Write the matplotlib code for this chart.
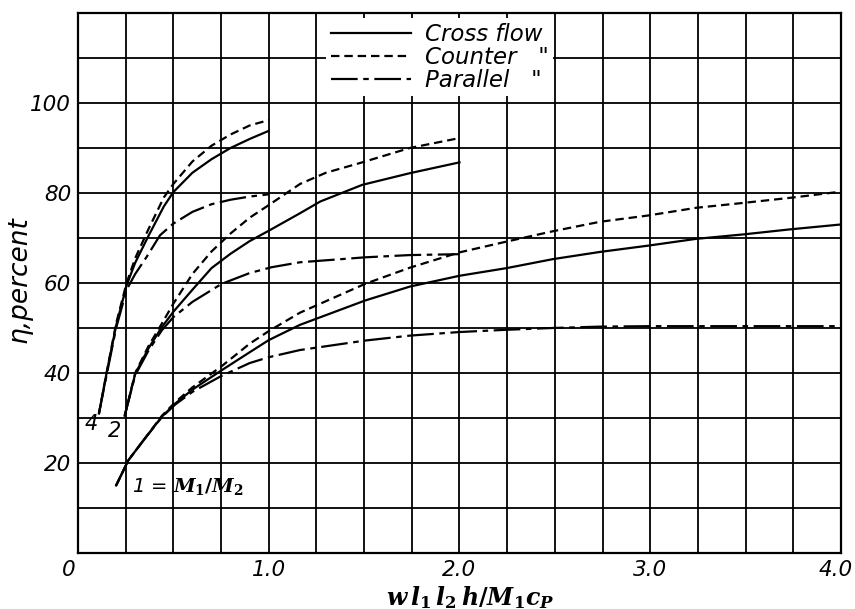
import matplotlib.pyplot as plt
from matplotlib.ticker import MultipleLocator, FixedLocator
from matplotlib.transforms import ScaledTranslation

# Heat-exchanger effectiveness vs. w*l1*l2*h/(M1*cp) for M1/M2 = 4, 2, 1

# M1/M2 = 4
r4_counter_x = [0.11, 0.15, 0.2, 0.255, 0.3, 0.37, 0.45, 0.5, 0.6, 0.7, 0.8, 0.9, 1.0]
r4_counter_y = [31, 40, 51, 60, 65.5, 72, 79, 82, 87, 90.5, 93, 95, 96.2]
r4_cross_x = [0.11, 0.15, 0.2, 0.255, 0.3, 0.37, 0.45, 0.5, 0.6, 0.7, 0.8, 0.9, 1.0]
r4_cross_y = [31, 40, 50.5, 59.5, 64.5, 70.5, 77, 80.2, 84.5, 87.5, 90, 92, 93.8]
r4_parallel_x = [0.11, 0.15, 0.2, 0.255, 0.3, 0.36, 0.43, 0.5, 0.6, 0.7, 0.8, 0.9, 1.0]
r4_parallel_y = [31, 39.5, 50, 58.5, 62, 65.8, 70.6, 73.2, 75.8, 77.5, 78.5, 79.2, 79.7]

# M1/M2 = 2
r2_counter_x = [0.245, 0.3, 0.37, 0.44, 0.5, 0.6, 0.7, 0.8, 0.9, 1.0, 1.164, 1.3, 1.49, 1.74, 2.0]
r2_counter_y = [30.5, 40, 46, 51, 55.4, 62, 67, 71, 74.5, 77.3, 82, 84.5, 86.8, 90, 92.2]
r2_cross_x = [0.245, 0.3, 0.37, 0.44, 0.5, 0.6, 0.7, 0.8, 0.9, 1.0, 1.164, 1.27, 1.49, 1.74, 2.0]
r2_cross_y = [30.5, 39.8, 45.5, 50.2, 53.6, 58.5, 63.3, 66.5, 69.3, 71.6, 75.5, 78.1, 81.8, 84.4, 86.8]
r2_parallel_x = [0.245, 0.3, 0.37, 0.44, 0.5, 0.6, 0.753, 0.9, 1.015, 1.164, 1.505, 1.74, 2.0]
r2_parallel_y = [30.5, 39.5, 45, 49.5, 52.4, 55.8, 59.8, 62.2, 63.5, 64.6, 65.7, 66.2, 66.4]

# M1/M2 = 1
r1_counter_x = [0.2, 0.264, 0.35, 0.44, 0.51, 0.6, 0.753, 0.9, 1.0, 1.164, 1.505, 1.74,
                2.0, 2.247, 2.49, 2.737, 2.99, 3.24, 3.49, 3.75, 4.0]
r1_counter_y = [15, 20.6, 25.4, 30.5, 33.5, 36.8, 41.5, 46.5, 49.3, 53.4, 59.8, 63.4,
                66.8, 69.2, 71.5, 73.6, 75.0, 76.7, 77.8, 79.0, 80.3]
r1_cross_x = [0.2, 0.264, 0.35, 0.44, 0.51, 0.6, 0.753, 0.9, 1.0, 1.164, 1.505, 1.74,
              2.0, 2.247, 2.49, 2.737, 2.99, 3.24, 3.49, 3.73, 4.0]
r1_cross_y = [15, 20.6, 25.4, 30.3, 33.2, 36.3, 40.6, 44.6, 47.3, 50.7, 56.1, 59.2,
              61.6, 63.3, 65.3, 66.9, 68.3, 69.8, 70.8, 71.9, 73.0]
r1_parallel_x = [0.2, 0.264, 0.35, 0.44, 0.51, 0.6, 0.75, 0.9, 1.0, 1.164, 1.505, 1.74,
                 2.0, 2.247, 2.49, 2.737, 3.0, 3.5, 4.0]
r1_parallel_y = [15, 20.6, 25.4, 30.2, 33, 35.8, 39.3, 42.2, 43.5, 45.1, 47.2, 48.3,
                 49.1, 49.6, 50.0, 50.3, 50.4, 50.4, 50.4]

x_tick_pos = [0, 1, 2, 3, 4]
x_tick_labels = ['0', '1.0', '2.0', '3.0', '4.0']
y_tick_pos = [20, 40, 60, 80, 100]
y_tick_labels = ['20', '40', '60', '80', '100']
legend_labels = ['Cross flow', 'Counter   "', 'Parallel   "']

plt.rcParams['font.family'] = ['DejaVu Sans']
plt.rcParams['mathtext.fontset'] = 'custom'
plt.rcParams['mathtext.it'] = 'DejaVu Serif:italic:bold'
plt.rcParams['mathtext.rm'] = 'DejaVu Serif:bold'
plt.rcParams['mathtext.bf'] = 'DejaVu Serif:bold'

cross_style = dict(color='black', lw=1.6, ls='-')
counter_style = dict(color='black', lw=1.6, ls=(0, (3.8, 2.2)))
parallel_style = dict(color='black', lw=1.6, ls=(0, (12, 2.5, 2.5, 2.5)))

fig = plt.figure(figsize=(8.55, 6.09), dpi=100)
ax = fig.add_axes([0.0912, 0.092, 0.8924, 0.8867])

h_cross, = ax.plot(r4_cross_x, r4_cross_y, **cross_style)
h_counter, = ax.plot(r4_counter_x, r4_counter_y, **counter_style)
h_parallel, = ax.plot(r4_parallel_x, r4_parallel_y, **parallel_style)
ax.plot(r2_cross_x, r2_cross_y, **cross_style)
ax.plot(r2_counter_x, r2_counter_y, **counter_style)
ax.plot(r2_parallel_x, r2_parallel_y, **parallel_style)
ax.plot(r1_cross_x, r1_cross_y, **cross_style)
ax.plot(r1_counter_x, r1_counter_y, **counter_style)
ax.plot(r1_parallel_x, r1_parallel_y, **parallel_style)

ax.set_xlim(0, 4)
ax.set_ylim(0, 120)
ax.set_xticks(x_tick_pos, x_tick_labels)
ax.xaxis.set_minor_locator(MultipleLocator(0.25))
ax.yaxis.set_major_locator(FixedLocator(y_tick_pos))
ax.set_yticklabels(y_tick_labels)
ax.yaxis.set_minor_locator(MultipleLocator(10))
ax.set_axisbelow(True)
ax.grid(which='both', color='black', lw=1.3)
ax.tick_params(which='both', length=0, labelsize=15.5, pad=5)
for lab in ax.get_xticklabels() + ax.get_yticklabels():
    lab.set_fontstyle('italic')
# nudge the end labels of the x axis a little to the left
xlabs = ax.get_xticklabels()
xlabs[0].set_transform(xlabs[0].get_transform() + ScaledTranslation(-0.09, 0, fig.dpi_scale_trans))
xlabs[-1].set_transform(xlabs[-1].get_transform() + ScaledTranslation(-0.05, 0, fig.dpi_scale_trans))
for sp in ax.spines.values():
    sp.set_linewidth(1.6)

ax.set_ylabel('η,percent', fontsize=19, style='italic')
ax.yaxis.set_label_coords(-0.059, 0.507)
ax.set_xlabel(r'$w\,l_1\,l_2\,h/M_1c_P$', fontsize=17)
ax.xaxis.set_label_coords(0.514, -0.057)

# curve labels for the mass-flow ratio
ax.text(0.071, 28.6, '4', fontsize=15, style='italic', ha='center', va='center')
ax.text(0.194, 27.1, '2', fontsize=15, style='italic', ha='center', va='center')
ax.text(0.283, 14.7, r'1 = $M_1/M_2$', fontsize=14, style='italic', ha='left', va='center')

leg = ax.legend([h_cross, h_counter, h_parallel], legend_labels,
                loc='upper left', bbox_to_anchor=(0.31, 1.012), frameon=True,
                facecolor='white', edgecolor='none', framealpha=1, fancybox=False,
                handlelength=3.5, handletextpad=0.6, labelspacing=0.0, borderpad=0.2,
                prop=dict(style='italic', size=16.5))

fig.savefig('out.png', dpi=100)
